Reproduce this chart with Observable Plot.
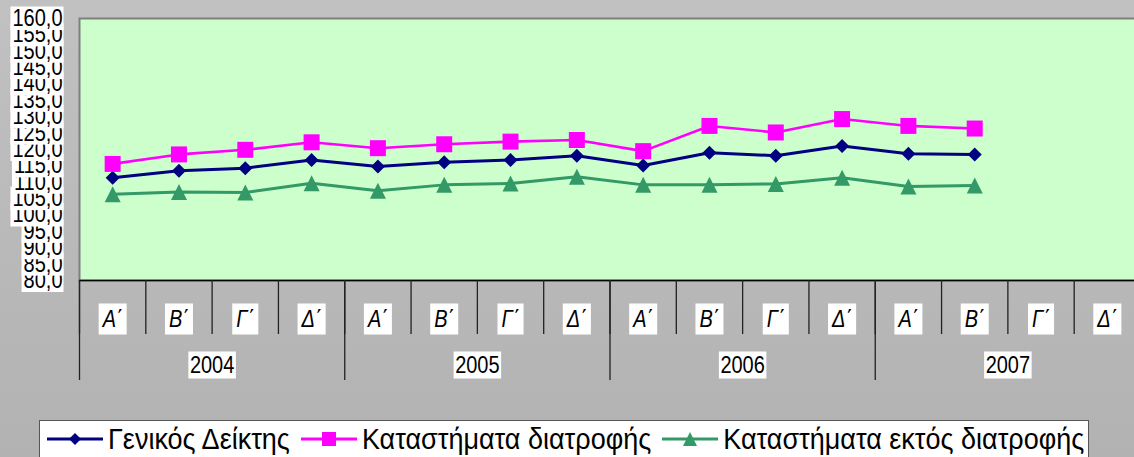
<!DOCTYPE html>
<html><head><meta charset="utf-8">
<script src="https://cdn.jsdelivr.net/npm/d3@7"></script>
<script src="https://cdn.jsdelivr.net/npm/@observablehq/plot@0.6"></script>
<style>
html,body{margin:0;padding:0;}
body{width:1134px;height:457px;overflow:hidden;background:linear-gradient(#c1c1c1,#b2b2b2);font-family:"Liberation Sans",Arial,sans-serif;}
#wrap{position:relative;width:1134px;height:457px;overflow:hidden;}
#chart{position:absolute;left:0;top:0;}
#legend{position:absolute;left:39px;top:420px;width:1050px;height:60px;background:#fff;border:1px solid #555;box-sizing:border-box;display:flex;align-items:flex-start;padding-left:7px;}
.item{display:flex;align-items:center;height:36px;margin-right:11px;}
.item svg{display:block;margin-right:5px;}
.item span{display:inline-block;font-size:27px;line-height:36px;transform:scaleY(1.12);color:#000;white-space:nowrap;}
</style>
</head><body>
<div id="wrap"><div id="chart"></div><div id="legend"></div></div>
<script>
// ---- data ----
const years = ["2004", "2005", "2006", "2007"];
const quarters = ["Α΄", "Β΄", "Γ΄", "Δ΄"];
const seriesNames = ["Γενικός Δείκτης", "Καταστήματα διατροφής", "Καταστήματα εκτός διατροφής"];
const general = [111.4, 113.5, 114.3, 116.8, 114.8, 116.1, 116.8, 118.1, 115.1, 119.0, 118.1, 121.1, 118.7, 118.5];
const food    = [115.6, 118.5, 119.9, 122.2, 120.4, 121.6, 122.4, 122.9, 119.5, 127.2, 125.2, 129.3, 127.2, 126.4];
const nonFood = [106.3, 107.0, 106.9, 109.7, 107.4, 109.2, 109.6, 111.7, 109.2, 109.2, 109.5, 111.4, 108.7, 109.0];
const yTicks = [80, 85, 90, 95, 100, 105, 110, 115, 120, 125, 130, 135, 140, 145, 150, 155, 160];
const colors = ["#000080", "#ff00ff", "#339966"];

// ---- derived tables ----
const slots = years.flatMap((y, yi) => quarters.map((q, qi) => ({year: y, q, i: yi * 4 + qi})));
const bounds = d3.range(slots.length + 1);
const yearBounds = d3.range(0, slots.length + 1, quarters.length);
const toRows = (arr) => arr.map((v, i) => ({i, v}));
const series = [general, food, nonFood].map(toRows);

// symbols (bbox-centred like the spreadsheet markers)
const diamondSym = {draw(ctx, size) { const r = Math.sqrt(size) / 2; ctx.moveTo(0, -r); ctx.lineTo(r, 0); ctx.lineTo(0, r); ctx.lineTo(-r, 0); ctx.closePath(); }};
const squareSym = {draw(ctx, size) { const r = Math.sqrt(size) / 2; ctx.moveTo(-r, -r); ctx.lineTo(r, -r); ctx.lineTo(r, r); ctx.lineTo(-r, r); ctx.closePath(); }};
const triSym = {draw(ctx, size) { const r = Math.sqrt(size) / 2; ctx.moveTo(0, -r); ctx.lineTo(r, r); ctx.lineTo(-r, r); ctx.closePath(); }};
const symbols = [diamondSym, squareSym, triSym];
const symR = [14 / Math.sqrt(Math.PI), 16 / Math.sqrt(Math.PI), 16 / Math.sqrt(Math.PI)];

const STRETCH = 1.16;
const measure = document.createElement("canvas").getContext("2d");
function boxed({font, top, bottom, padL, padR}) {
  return function(index, scales, values, dims, context, next) {
    const g = next(index, scales, values, dims, context);
    measure.font = font;
    for (const t of Array.from(g.querySelectorAll("text"))) {
      const tr = t.getAttribute("transform") || "";
      const m = /translate\(([-\d.e]+)[ ,]+([-\d.e]+)\)/.exec(tr);
      if (!m) continue;
      const X = +m[1], Y = +m[2];
      const w = measure.measureText(t.textContent).width;
      const anchor = t.getAttribute("text-anchor") || g.getAttribute("text-anchor") || "middle";
      let x0;
      if (anchor === "end") x0 = X - w - padL;
      else if (anchor === "start") x0 = X - padL;
      else x0 = X - w / 2 - padL;
      const r = document.createElementNS("http://www.w3.org/2000/svg", "rect");
      r.setAttribute("x", x0);
      r.setAttribute("y", Y - top);
      r.setAttribute("width", w + padL + padR);
      r.setAttribute("height", top + bottom);
      r.setAttribute("fill", "#fff");
      t.parentNode.insertBefore(r, t);
      t.setAttribute("transform", tr + ` scale(1,${STRETCH})`);
    }
    return g;
  };
}

const fontFam = "'Liberation Sans', Arial, sans-serif";
const fmt = (v) => v.toFixed(1).replace(".", ",");

const marks = [
  Plot.frame({fill: "#ccffcc", stroke: "#7f7f7f", strokeWidth: 2}),
  Plot.ruleY([80], {stroke: "#000", strokeWidth: 1.5}),
  Plot.ruleX(bounds, {x: (d) => d, stroke: "#222", strokeWidth: 1.3, insetTop: 262, insetBottom: -54}),
  Plot.ruleX(yearBounds, {x: (d) => d, stroke: "#222", strokeWidth: 1.3, insetTop: 262, insetBottom: -100}),
  Plot.text(yTicks, {y: (d) => d, text: fmt, frameAnchor: "left", textAnchor: "end", lineAnchor: "middle", dx: -17,
    fontSize: 20, fill: "#000",
    render: boxed({font: `20px ${fontFam}`, top: 12, bottom: 11.5, padL: 2, padR: 1})}),
  Plot.text(slots, {x: (d) => d.i + 0.5, text: (d) => d.q, frameAnchor: "bottom", lineAnchor: "middle", textAnchor: "middle",
    dy: 39, fontSize: 20, fontStyle: "italic", fill: "#000",
    render: boxed({font: `italic 20px ${fontFam}`, top: 16, bottom: 15, padL: 4, padR: 4})}),
  Plot.text(years, {x: (d, i) => i * quarters.length + quarters.length / 2, text: (d) => d, frameAnchor: "bottom", lineAnchor: "middle", textAnchor: "middle",
    dy: 85, fontSize: 20, fill: "#000",
    render: boxed({font: `20px ${fontFam}`, top: 14, bottom: 13, padL: 1.5, padR: 1.5})}),
  ...series.map((rows, k) => Plot.line(rows, {x: (d) => d.i + 0.5, y: "v", stroke: colors[k], strokeWidth: k === 1 ? 2.6 : 3})),
  ...series.map((rows, k) => Plot.dot(rows, {x: (d) => d.i + 0.5, y: "v", symbol: symbols[k], r: symR[k], fill: colors[k], stroke: "none"}))
];

const svg = Plot.plot({
  width: 1140, height: 400,
  marginLeft: 79, marginRight: 0, marginTop: 18, marginBottom: 120,
  style: {background: "transparent", maxWidth: "none", overflow: "visible", fontFamily: fontFam},
  x: {domain: [0, slots.length], axis: null},
  y: {domain: [80, 160], axis: null},
  marks
});
document.getElementById("chart").appendChild(svg);

// ---- legend ----
const legend = document.getElementById("legend");
const sampleSize = [12, 14, 14];
seriesNames.forEach((name, k) => {
  const item = document.createElement("div");
  item.className = "item";
  const s = d3.create("svg").attr("width", 56).attr("height", 20);
  s.append("line").attr("x1", 0).attr("x2", 56).attr("y1", 10).attr("y2", 10)
    .attr("stroke", colors[k]).attr("stroke-width", 3);
  const sz = sampleSize[k];
  s.append("path").attr("transform", "translate(28,10)")
    .attr("d", d3.symbol(symbols[k], sz * sz)()).attr("fill", colors[k]);
  item.appendChild(s.node());
  const span = document.createElement("span");
  span.textContent = name;
  item.appendChild(span);
  legend.appendChild(item);
});
</script>
</body></html>
